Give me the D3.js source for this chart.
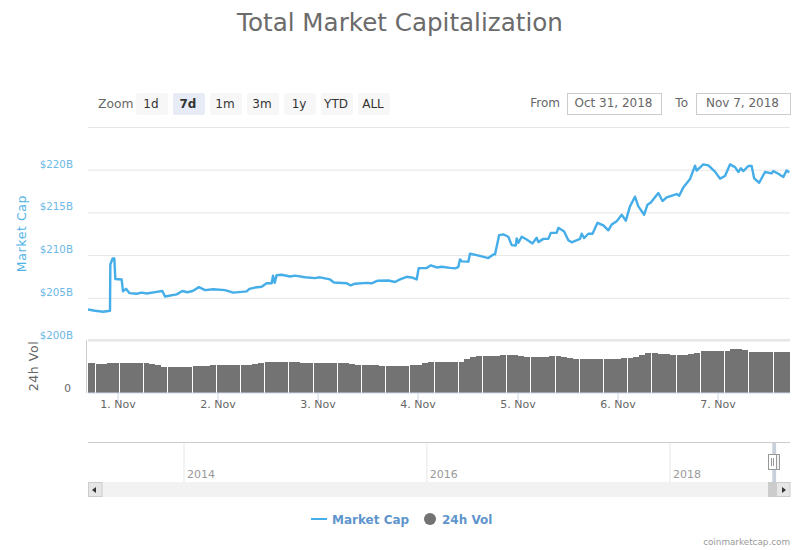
<!DOCTYPE html>
<html>
<head>
<meta charset="utf-8">
<script src="https://cdn.jsdelivr.net/npm/d3@7"></script>
<style>
  body { margin: 0; background: #fff; }
  svg text { font-family: "DejaVu Sans", sans-serif; }
  .domain { display: none; }
</style>
</head>
<body>
<script>
const width = 800,
  height = 550;

// hours counted from 1 Nov 2018 00:00
const capHours = [
  -7.08, -5.4, -3.4, -1.8, -1.72, -1.16, -0.76, -0.52, 1, 1.32, 2.04, 2.84, 4.6, 5.8, 7, 9.4, 10.76, 11.4,
  14.2, 15.56, 16.76, 18.04, 19.56, 21, 23, 25.8, 27.8, 31, 31.64, 33, 34.6, 35.8, 37, 37.32, 37.72, 38.2,
  39.4, 41.4, 42.6, 45, 47.4, 48.6, 51, 51.96, 55, 55.96, 57, 59.8, 61, 62.44, 65, 66.6,
  67.8, 69.4, 70.6, 71.8, 72.3, 74.2, 75.2, 76.6, 77.8, 79.8, 81, 81.8, 82.2, 82.6, 84.2, 84.6, 86.2, 89,
  90.2, 90.6, 91.6, 92.6, 93.8, 94.6, 95.6, 95.8, 96.2, 97, 98.2, 99.6, 100.6, 101, 102.2, 103.4, 104,
  105.4, 105.8, 107.2, 108.2, 109, 111, 111.4, 112, 113, 114, 115.2, 116.6, 117.8, 118.6, 119.8, 121, 122,
  123, 124.2, 125, 126.4, 127.2, 128, 129.8, 130.8, 131.8, 134.2, 134.8, 135.8, 137.4, 138.6, 139, 140.6,
  141.8, 143.4, 144.6, 145.8, 147, 148.2, 149, 149.6, 150.2, 151.4, 152.2, 152.8, 154, 155.4, 157, 157.4,
  158.6, 159.8, 160.6, 161.2
];

// billions of dollars
const capValues = [
  203.63, 203.48, 203.36, 203.48, 208.9, 209.6, 209.6, 207.2, 207.15, 205.75, 206.05, 205.55, 205.47, 205.6, 205.5, 205.7, 205.8, 205.15,
  205.4, 205.8, 205.65, 205.8, 206.25, 205.9, 206, 205.9, 205.6, 205.75, 206.05, 206.2, 206.3, 206.7, 206.7, 207.6, 206.75, 207.65,
  207.7, 207.5, 207.6, 207.4, 207.3, 207.4, 207.15, 206.8, 206.7, 206.45, 206.65, 206.75, 206.7, 207, 207.03, 206.85,
  207.15, 207.46, 207.38, 207.15, 208.48, 208.48, 208.8, 208.55, 208.63, 208.5, 208.44, 208.6, 209.5, 209.27, 209.23, 210.16, 210, 209.65,
  210.08, 210.08, 212.34, 212.42, 212.15, 211.17, 211.13, 211.95, 211.44, 212.15, 211.83, 211.37, 212.03, 211.52, 211.9, 211.9, 212.6,
  212.6, 213.2, 212.77, 211.75, 211.5, 211.9, 212.5, 212, 212.5, 212.5, 213.78, 213.47, 212.9, 213.57, 213.95, 214.73, 214.03,
  215.7, 216.84, 215.7, 214.73, 215.9, 216.17, 217.27, 216.33, 216.77, 217.15, 216.95, 217.93, 218.9, 220.47, 219.9, 220.62,
  220.5, 219.77, 218.95, 219.26, 220.62, 220.3, 219.73, 220.16, 219.84, 220.43, 220.43, 218.98, 218.47, 219.73, 219.57, 219.84,
  219.53, 219.14, 219.92, 219.65
];

// four readings per grouped volume column
const volValues = [
  16.8, 16.8, 16.8, 16.8, 16.4, 16.6, 17, 16.7, 17, 17, 17, 17, 16.8, 16.4, 15.8, 14.9,
  14.7, 14.7, 14.7, 14.8, 15.3, 15.3, 15.5, 15.6, 15.8, 15.8, 15.8, 15.8, 15.8, 15.8, 16.4, 17,
  17.3, 17.4, 17.4, 17.4, 17.4, 17.4, 17, 17, 16.8, 16.8, 17, 17, 17, 16.8, 16.4, 16,
  15.8, 15.8, 15.7, 15.3, 15.3, 15.3, 15.3, 15.3, 15.8, 16, 16.8, 17.5, 17.5, 17.5, 17.5, 17.5,
  17.7, 19.2, 20.4, 20.9, 20.9, 20.9, 21.1, 21.5, 21.5, 21.3, 20.8, 20.5, 20.5, 20.5, 20.5, 20.9,
  20.9, 20.5, 20, 19.4, 19.2, 19.2, 19.2, 19.2, 19.2, 19.2, 19.4, 19.6, 20, 20.5, 21.5, 22.5,
  22.5, 22.1, 21.9, 21.5, 21.5, 21.7, 22.1, 22.8, 23.8, 23.8, 23.8, 23.8, 23.9, 24.7, 24.7, 24.3,
  23.4, 23.4, 23.4, 23.4, 23.2, 23.2, 23.2, 23.2
];

const capTicks = [200, 205, 210, 215, 220];
const gridExtra = [225];
const dayTicks = [1, 2, 3, 4, 5, 6, 7];
const yearTicks = [2014, 2016, 2018];
const zoomLabels = ['1d', '7d', '1m', '3m', '1y', 'YTD', 'ALL'];
const selectedZoom = '7d';
const fromLabel = 'Oct 31, 2018';
const toLabel = 'Nov 7, 2018';

const hourMs = 3600000;
const nov1 = Date.UTC(2018, 10, 1);
const atHour = h => new Date(nov1 + h * hourMs);

const blue = '#45ade8',
  grey = '#737373';

const svg = d3
  .select('body')
  .append('svg')
  .attr('width', width)
  .attr('height', height);

const x = d3
  .scaleUtc()
  .domain([atHour(-7.08), atHour(161.4)])
  .range([88, 790]);

const yCap = d3.scaleLinear().domain([200, 225]).range([340.5, 127]);
const yVol = d3.scaleLinear().domain([0, 30]).range([393, 340]);

// title
svg
  .append('text')
  .attr('x', 400)
  .attr('y', 31)
  .attr('text-anchor', 'middle')
  .attr('fill', '#6b6b6b')
  .style('font-size', '24.6px')
  .text('Total Market Capitalization');

// range selector
svg
  .append('text')
  .attr('x', 98)
  .attr('y', 108)
  .attr('fill', '#666')
  .style('font-size', '12.3px')
  .text('Zoom');

const buttons = svg
  .selectAll('g.button')
  .data(zoomLabels)
  .join('g')
  .attr('class', 'button')
  .attr('transform', d => `translate(${136 + zoomLabels.indexOf(d) * 37},93)`);

buttons
  .append('rect')
  .attr('width', 32)
  .attr('height', 22)
  .attr('rx', 2)
  .attr('fill', d => (d === selectedZoom ? '#e6ebf5' : '#f7f7f7'));

buttons
  .append('text')
  .attr('x', 15)
  .attr('y', 14.5)
  .attr('text-anchor', 'middle')
  .attr('fill', '#333')
  .style('font-size', '12px')
  .style('font-weight', d => (d === selectedZoom ? 'bold' : 'normal'))
  .text(d => d);

// date inputs
const inputs = [
  { label: 'From', labelX: 560, boxX: 567, value: fromLabel },
  { label: 'To', labelX: 688, boxX: 696, value: toLabel }
];

inputs.forEach(d => {
  svg
    .append('text')
    .attr('x', d.labelX)
    .attr('y', 107)
    .attr('text-anchor', 'end')
    .attr('fill', '#666')
    .style('font-size', '12px')
    .text(d.label);
  svg
    .append('rect')
    .attr('x', d.boxX + 0.5)
    .attr('y', 93.5)
    .attr('width', 94)
    .attr('height', 21)
    .attr('fill', '#fff')
    .attr('stroke', '#ccc');
  svg
    .append('text')
    .attr('x', d.boxX + 46.5)
    .attr('y', 107)
    .attr('text-anchor', 'middle')
    .attr('fill', '#666')
    .style('font-size', '12px')
    .text(d.value);
});

// market cap axis and grid
const capAxis = svg
  .append('g')
  .attr('transform', 'translate(88,0)')
  .call(d3.axisLeft(yCap).tickValues(capTicks.concat(gridExtra)).tickSize(-702).tickFormat(d => (capTicks.includes(d) ? `$${d}B` : '')));

capAxis.selectAll('line').attr('stroke', '#e6e6e6');
capAxis
  .selectAll('text')
  .attr('x', -15)
  .attr('dy', '-2.5px')
  .attr('fill', '#6db8e6')
  .style('font-size', '10.3px');

svg
  .append('text')
  .attr('transform', 'translate(26,233.5) rotate(-90)')
  .attr('text-anchor', 'middle')
  .attr('fill', '#4db3e8')
  .style('font-size', '12.5px')
  .style('letter-spacing', '0.6px')
  .text('Market Cap');

// volume panel
svg
  .append('rect')
  .attr('x', 88)
  .attr('y', 339)
  .attr('width', 702)
  .attr('height', 2)
  .attr('fill', '#e6e6e6');

svg
  .append('rect')
  .attr('x', 86)
  .attr('y', 340)
  .attr('width', 1)
  .attr('height', 53)
  .attr('fill', '#ccc');

const volAxis = svg
  .append('g')
  .attr('transform', 'translate(88,0)')
  .call(d3.axisLeft(yVol).tickValues([0]).tickSize(0));

volAxis
  .selectAll('text')
  .attr('x', -17)
  .attr('dy', '-2px')
  .attr('fill', '#666')
  .style('font-size', '10.5px');

svg
  .append('text')
  .attr('transform', 'translate(38,366) rotate(-90)')
  .attr('text-anchor', 'middle')
  .attr('fill', '#666')
  .style('font-size', '12.5px')
  .style('letter-spacing', '0.6px')
  .text('24h Vol');

svg
  .append('clipPath')
  .attr('id', 'plot')
  .append('rect')
  .attr('x', 88)
  .attr('y', 120)
  .attr('width', 702)
  .attr('height', 280);

const volStart = -11.28,
  volStep = 1.4525;

const volX0 = (d, i) => Math.round(x(atHour(volStart + i * volStep))) + (i % 4 === 0 ? 1 : 0);
const volX1 = (d, i) => Math.round(x(atHour(volStart + (i + 1) * volStep)));

svg
  .append('g')
  .attr('clip-path', 'url(#plot)')
  .selectAll('rect')
  .data(volValues)
  .join('rect')
  .attr('x', volX0)
  .attr('width', (d, i) => volX1(d, i) - volX0(d, i))
  .attr('y', d => yVol(d))
  .attr('height', d => yVol(0) - yVol(d))
  .attr('fill', grey)
  .attr('shape-rendering', 'crispEdges');

// time axis
const timeAxis = svg
  .append('g')
  .attr('transform', 'translate(0,393)')
  .call(
    d3
      .axisBottom(x)
      .tickValues(dayTicks.map(d => new Date(Date.UTC(2018, 10, d))))
      .tickSize(10)
      .tickFormat(d3.utcFormat('%-d. Nov'))
  );

timeAxis.selectAll('line').attr('stroke', '#ccd6eb');
timeAxis
  .selectAll('text')
  .attr('y', 11)
  .attr('dy', '0.32em')
  .attr('fill', '#666')
  .style('font-size', '11px');

svg
  .append('rect')
  .attr('x', 88)
  .attr('y', 392.5)
  .attr('width', 702)
  .attr('height', 1)
  .attr('fill', '#ccd6eb');

// market cap line
const line = d3
  .line()
  .x((d, i) => x(atHour(capHours[i])))
  .y(d => yCap(d));

svg
  .append('path')
  .datum(capValues)
  .attr('clip-path', 'url(#plot)')
  .attr('d', line)
  .attr('fill', 'none')
  .attr('stroke', blue)
  .attr('stroke-width', 2.4)
  .attr('stroke-linejoin', 'round');

// navigator
const xNav = d3
  .scaleUtc()
  .domain([new Date(Date.UTC(2014, 0, 1)), new Date(Date.UTC(2018, 0, 1))])
  .range([183.5, 669.5]);

const navAxis = svg
  .append('g')
  .attr('transform', 'translate(0,442)')
  .call(
    d3
      .axisBottom(xNav)
      .tickValues(yearTicks.map(d => new Date(Date.UTC(d, 0, 1))))
      .tickSize(41)
      .tickFormat(d3.utcFormat('%Y'))
  );

navAxis.selectAll('line').attr('stroke', '#e6e6e6');
navAxis
  .selectAll('text')
  .attr('y', 36)
  .attr('dy', '0')
  .attr('text-anchor', 'start')
  .attr('dx', 3)
  .attr('fill', '#999')
  .style('font-size', '11px');

svg
  .append('rect')
  .attr('x', 88)
  .attr('y', 442)
  .attr('width', 702)
  .attr('height', 1)
  .attr('fill', '#ccc');

const navFrom = xNav(new Date(Date.UTC(2018, 9, 31))),
  navTo = xNav(new Date(Date.UTC(2018, 10, 7)));

svg
  .append('rect')
  .attr('x', navFrom + 2)
  .attr('y', 443)
  .attr('width', navTo - navFrom + 1.5)
  .attr('height', 40)
  .attr('fill', '#c8d0dc');

// scrollbar
svg
  .append('rect')
  .attr('x', 88)
  .attr('y', 482)
  .attr('width', 702)
  .attr('height', 15)
  .attr('fill', '#f2f2f2');

svg
  .append('rect')
  .attr('x', 768)
  .attr('y', 482)
  .attr('width', 8)
  .attr('height', 15)
  .attr('fill', '#cccccc');

const arrowButtons = [
  { bx: 88, points: '96,487 92,490 96,493' },
  { bx: 776, points: '782,487 786,490 782,493' }
];

arrowButtons.forEach(d => {
  svg
    .append('rect')
    .attr('x', d.bx + 0.5)
    .attr('y', 482.5)
    .attr('width', 13.5)
    .attr('height', 14)
    .attr('fill', '#e6e6e6')
    .attr('stroke', '#ccc');
  svg.append('polygon').attr('points', d.points).attr('fill', '#333');
});

// navigator handle
svg
  .append('rect')
  .attr('x', 773.5)
  .attr('y', 454.5)
  .attr('width', 6)
  .attr('height', 15)
  .attr('fill', '#f2f2f2')
  .attr('stroke', '#999');

svg
  .append('rect')
  .attr('x', 768.5)
  .attr('y', 454.5)
  .attr('width', 8)
  .attr('height', 15)
  .attr('fill', '#fff')
  .attr('stroke', '#999');

[771.5, 773.5].forEach(d => {
  svg
    .append('line')
    .attr('x1', d)
    .attr('x2', d)
    .attr('y1', 458)
    .attr('y2', 466)
    .attr('stroke', '#999');
});

// legend
svg
  .append('line')
  .attr('x1', 311)
  .attr('x2', 327)
  .attr('y1', 519)
  .attr('y2', 519)
  .attr('stroke', blue)
  .attr('stroke-width', 2);

svg
  .append('circle')
  .attr('cx', 430)
  .attr('cy', 519)
  .attr('r', 6)
  .attr('fill', grey);

const legendText = [
  { label: 'Market Cap', lx: 332 },
  { label: '24h Vol', lx: 442 }
];

svg
  .selectAll('text.legend')
  .data(legendText)
  .join('text')
  .attr('class', 'legend')
  .attr('x', d => d.lx)
  .attr('y', 524)
  .attr('fill', '#5f95cc')
  .style('font-size', '12px')
  .style('font-weight', 'bold')
  .text(d => d.label);

// credit
svg
  .append('text')
  .attr('x', 790)
  .attr('y', 544.5)
  .attr('text-anchor', 'end')
  .attr('fill', '#999')
  .style('font-size', '8.8px')
  .text('coinmarketcap.com');
</script>
</body>
</html>
